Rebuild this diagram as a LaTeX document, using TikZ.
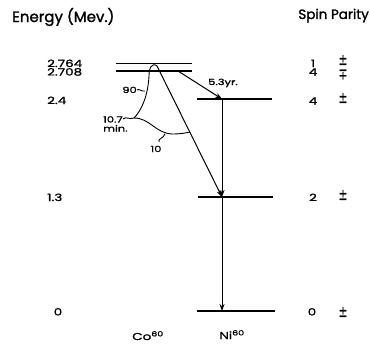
\documentclass[tikz,border=0pt]{standalone}
\usepackage{fontspec}
\usepackage{graphicx}
\setmainfont[FakeBold=1.5]{Poppins}
\newfontfamily\hand[FakeStretch=1.35,FakeBold=1.5]{Poppins}
\newfontfamily\symf[FakeBold=1.5]{DejaVu Sans}
\usetikzlibrary{arrows.meta}
\newcommand{\tallpm}{\scalebox{0.85}[1.3]{\symf ±}}
\newcommand{\tallmp}{\scalebox{0.85}[1.3]{\symf ∓}}
\begin{document}
\begin{tikzpicture}[x=1pt,y=-1pt,
  lvl/.style={line width=1.3pt},
  arr/.style={line width=1pt,-{Stealth[length=7pt,width=5pt]}},
  thin/.style={line width=0.9pt},
  lbl/.style={font=\hand\fontsize{10}{12}\selectfont, inner sep=0pt},
  pm/.style={font=\fontsize{12}{12}\selectfont, inner sep=0pt},
  small/.style={font=\hand\fontsize{8.5}{8.5}\selectfont, inner sep=0pt}]
\useasboundingbox (0,0) rectangle (370,348);
% level coordinates
\coordinate (a1) at (116,63.5); \coordinate (a2) at (192,63.5);
\coordinate (b1) at (116,71); \coordinate (b2) at (192,71);
\coordinate (c1) at (197,99); \coordinate (c2) at (272,99);
\coordinate (d1) at (198,197); \coordinate (d2) at (273,197);
\coordinate (e1) at (197,311); \coordinate (e2) at (275,311);
\coordinate (cmid) at (222,99);
\coordinate (dmid) at (222,197);
\coordinate (emid) at (222,311);
\coordinate (src) at (157,66);
\coordinate (src2) at (178,71);
\coordinate (apex) at (134,118);
\coordinate (meet) at (190,132);
% levels
\draw[lvl] (a1) -- (a2);
\draw[lvl] (b1) -- (b2);
\draw[lvl] (c1) -- (c2);
\draw[lvl] (d1) -- (d2);
\draw[lvl] (e1) -- (e2);
% transitions
\draw[arr] (src2) -- (cmid);
\draw[arr] (src) -- (dmid);
\draw[arr] (cmid) -- (dmid);
\draw[arr] (dmid) -- (emid);
% brace curves
\draw[thin] (src) .. controls (152,62) and (149,68) .. (149,76)
  .. controls (148,95) and (142,110) .. (apex);
\draw[thin] (apex) .. controls (150,118) and (155,133) .. (172,134)
  .. controls (180,134) and (186,133) .. (meet);
% tildes
\draw[thin] (137,90) .. controls (139,88) and (141,92) .. (145,91);
\draw[thin] (123,119) .. controls (126,116) and (129,120) .. (apex);
\draw[thin] (159,142) .. controls (158,138) and (163,139) .. (165,134);
% headings
\node[font=\fontsize{15}{17}\selectfont, inner sep=0pt, anchor=base west] (energy) at (12,22) {Energy (Mev.)};
\node[font=\fontsize{13.5}{15}\selectfont, inner sep=0pt, anchor=base east] (spin) at (369,19) {Spin Parity};
% energies
\node[lbl, anchor=base west] (e1t) at (47,67) {2.764};
\node[lbl, anchor=base west] (e2t) at (47,75.5) {2.708};
\node[lbl, anchor=base west] (e3t) at (47,104) {2.4};
\node[lbl, anchor=base west] (e4t) at (47,201) {1.3};
\node[lbl, anchor=base] (e5t) at (58,315.5) {0};
% spins and parities
\node[lbl, anchor=base] (s1) at (313,67) {1};
\node[lbl, anchor=base] (s2) at (313,75.5) {4};
\node[pm] (p1) at (343,60) {\tallpm};
\node[pm] (p2) at (343,74.5) {\tallmp};
\node[lbl, anchor=base] (s3) at (313,104.5) {4};
\node[pm] (p3) at (343,98) {\tallpm};
\node[lbl, anchor=base] (s4) at (313,201) {2};
\node[pm] (p4) at (343,195) {\tallpm};
\node[lbl, anchor=base] (s5) at (312,315.5) {0};
\node[pm] (p5) at (343,312) {\tallpm};
% transition labels
\node[small, anchor=base west] (yr) at (208,85) {5.3yr.};
\node[small, anchor=base east] (n90) at (137,93) {90};
\node[small, anchor=base west] (n107) at (103,122.5) {10.7};
\node[small, anchor=base west] (n107b) at (103,131.5) {min.};
\node[small, anchor=base] (n10) at (156,152) {10};
% nuclides
\node[lbl, anchor=base] (co) at (148,340) {Co\textsuperscript{60}};
\node[lbl, anchor=base] (ni) at (232,339) {Ni\textsuperscript{60}};
\end{tikzpicture}
\end{document}
